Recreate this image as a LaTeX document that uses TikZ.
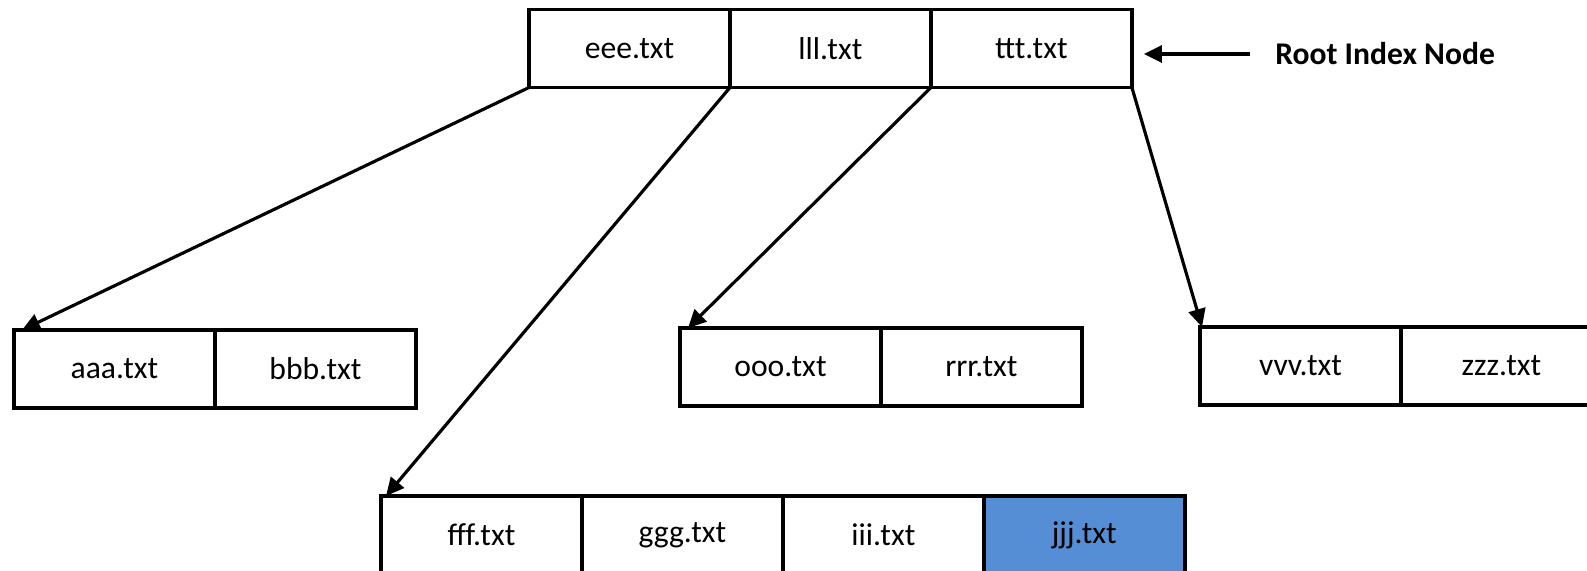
\documentclass[tikz,border=0pt]{standalone}
\usepackage{fontspec}
\setmainfont{Carlito}
\usetikzlibrary{arrows.meta,positioning}
\definecolor{hit}{HTML}{558ED5}
\tikzset{
  cell/.style={
    draw=black, line width=2pt, fill=white,
    minimum width=4.02cm, minimum height=1.56cm,
    inner sep=0pt, outer sep=0pt,
    font=\fontsize{18}{21}\selectfont
  },
  arrow/.style={-{Triangle[length=3.6mm,width=3.4mm]}, line width=1.8pt}
}

\begin{document}
\begin{tikzpicture}[x=0.02cm,y=-0.02cm]
  \fill[white] (0,0) rectangle (1587,571);
  \useasboundingbox (0,0) rectangle (1587,571);
  % root index node
  \node[cell] (eee) at (629.5,48.5) {eee.txt};
  \node[cell, right=0pt of eee] (lll) {lll.txt};
  \node[cell, right=0pt of lll] (ttt) {ttt.txt};
  \node[anchor=west, inner sep=0pt, font=\fontsize{18}{21}\selectfont\bfseries] (rootlbl) at (1275,54) {Root Index Node};
  % leaves
  \node[cell] (aaa) at (114.5,369) {aaa.txt};
  \node[cell, right=0pt of aaa] (bbb) {bbb.txt};
  \node[cell] (ooo) at (780.5,367) {ooo.txt};
  \node[cell, right=0pt of ooo] (rrr) {rrr.txt};
  \node[cell] (vvv) at (1300.5,366) {vvv.txt};
  \node[cell, right=0pt of vvv] (zzz) {zzz.txt};
  \node[cell] (fff) at (481.5,535) {fff.txt};
  \node[cell, right=0pt of fff] (ggg) {ggg.txt};
  \node[cell, right=0pt of ggg] (iii) {iii.txt};
  \node[cell, right=0pt of iii, fill=hit] (jjj) {jjj.txt};
  % pointers
  \draw[arrow] ([xshift=-0.5cm]rootlbl.west) -- ([xshift=0.24cm]ttt.east |- rootlbl.west);
  \draw[arrow] (eee.south west) -- ([xshift=0.16cm]aaa.north west);
  \draw[arrow] (lll.south west) -- ([xshift=0.1cm]fff.north west);
  \draw[arrow] (ttt.south west) -- ([xshift=0.16cm]ooo.north west);
  \draw[arrow] (ttt.south east) -- ([xshift=0.04cm]vvv.north west);
\end{tikzpicture}
\end{document}
